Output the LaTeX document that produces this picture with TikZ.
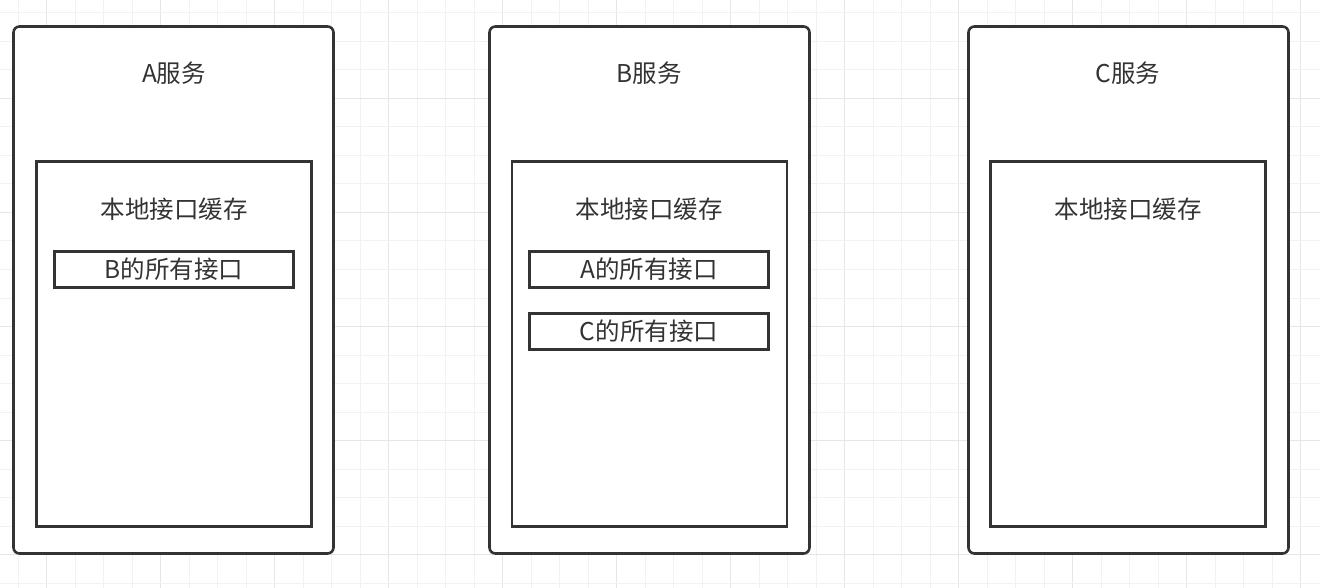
\documentclass[tikz,border=0pt]{standalone}
\usepackage{fontspec}
\setmainfont{Noto Sans CJK SC}
\usetikzlibrary{positioning}
\definecolor{linegray}{HTML}{333333}
\definecolor{gridminor}{HTML}{F2F2F2}
\definecolor{gridmajor}{HTML}{E6E6E6}

\begin{document}
\begin{tikzpicture}[x=1pt,y=-1pt,
  svc/.style={draw=linegray,line width=2.6pt,rounded corners=6pt,fill=white,minimum width=320pt,minimum height=527pt,inner sep=0pt},
  cache/.style={draw=linegray,line width=2.6pt,fill=white,minimum width=275pt,minimum height=365pt,inner sep=0pt},
  api/.style={draw=linegray,line width=2.6pt,minimum width=239pt,minimum height=36pt,inner sep=0pt,text=linegray,font=\fontsize{24.5}{28}\selectfont},
  lbl/.style={text=linegray,inner sep=0pt,font=\fontsize{24.5}{28}\selectfont}]
\useasboundingbox[fill=white] (0,0) rectangle (1320,588);
% background grid
\foreach \k in {0,...,45}{
  \pgfmathtruncatemacro\m{mod(\k,4)}
  \ifnum\m=1 \def\gc{gridmajor}\else\def\gc{gridminor}\fi
  \draw[\gc,line width=1pt] (18+28.5*\k,0) -- (18+28.5*\k,588);
}
\foreach \k in {0,...,20}{
  \pgfmathtruncatemacro\m{mod(\k,4)}
  \ifnum\m=3 \def\gc{gridmajor}\else\def\gc{gridminor}\fi
  \draw[\gc,line width=1pt] (0,13+28.5*\k) -- (1320,13+28.5*\k);
}
% services
\node[svc] (svcA) at (173.5,290) {};
\node[svc] (svcB) at (649.5,290) {};
\node[svc] (svcC) at (1128.5,290) {};
\node[lbl] (nameA) at (174,73) {A服务};
\node[lbl] (nameB) at (649,73) {B服务};
\node[lbl] (nameC) at (1128,73) {C服务};
% local caches
\node[cache] (cacheA) at (174,344) {};
\node[cache] (cacheB) at (649.5,344) {};
\node[cache] (cacheC) at (1128,344) {};
\node[lbl] (titleA) at (174,209) {本地接口缓存};
\node[lbl] (titleB) at (649,209) {本地接口缓存};
\node[lbl] (titleC) at (1128,209) {本地接口缓存};
\node[api] (apiB) at (174,269.5) {B的所有接口};
\node[api] (apiA) at (649,269.5) {A的所有接口};
\node[api] (apiC) at (649,331.5) {C的所有接口};
\end{tikzpicture}
\end{document}
